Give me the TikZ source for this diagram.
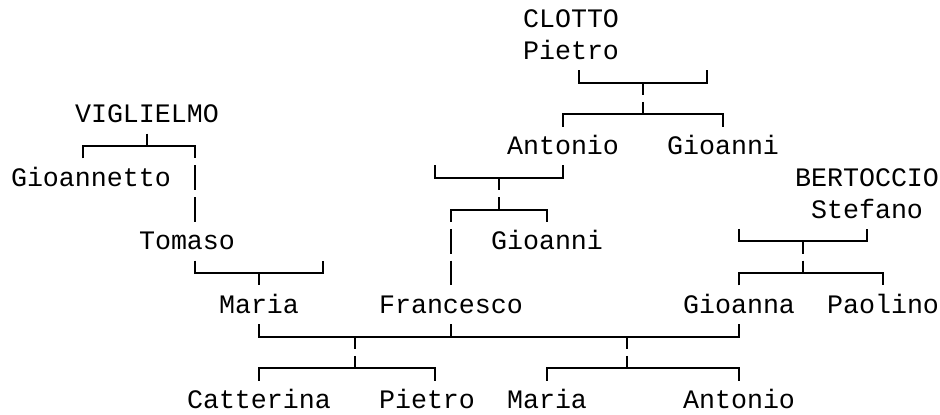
\documentclass[tikz,border=0pt]{standalone}
\usepackage{fontspec}
\setmonofont{Liberation Mono}
\usepackage{tikz}

\begin{document}
\begin{tikzpicture}[x=8pt, y=-15.875pt,
    person/.style={font=\ttfamily\fontsize{13.33}{16}\selectfont, inner sep=0pt, anchor=base},
    tree/.style={line width=1pt}]
    %% Background
    \useasboundingbox (-1.1875,-0.5984) rectangle (57.5625,12.4409);
    %% Names
    \node[person] (clotto) at (34.5,0.27) {CLOTTO};
    \node[person] (pietro) at (34.5,1.27) {Pietro};
    \node[person] (viglielmo) at (8,3.27) {VIGLIELMO};
    \node[person] (antonio) at (34,4.27) {Antonio};
    \node[person] (gioanni) at (44,4.27) {Gioanni};
    \node[person] (gioannetto) at (4.5,5.27) {Gioannetto};
    \node[person] (bertoccio) at (53,5.27) {BERTOCCIO};
    \node[person] (stefano) at (53,6.27) {Stefano};
    \node[person] (tomaso) at (10.5,7.27) {Tomaso};
    \node[person] (gioannijr) at (33,7.27) {Gioanni};
    \node[person] (maria) at (15,9.27) {Maria};
    \node[person] (francesco) at (27,9.27) {Francesco};
    \node[person] (gioanna) at (45,9.27) {Gioanna};
    \node[person] (paolino) at (54,9.27) {Paolino};
    \node[person] (catterina) at (15,12.27) {Catterina};
    \node[person] (pietrojr) at (25.5,12.27) {Pietro};
    \node[person] (mariajr) at (33,12.27) {Maria};
    \node[person] (antoniojr) at (45,12.27) {Antonio};
    %% CLOTTO Pietro
    \draw[tree] (35,1.61) -- (35,2) -- (43,2) -- (43,1.61);
    \draw[tree] (39,2) -- (39,2.39);
    \draw[tree] (39,2.61) -- (39,3);
    \draw[tree] (34,3.39) -- (34,3) -- (44,3) -- (44,3.39);
    %% VIGLIELMO
    \draw[tree] (8,3.61) -- (8,4);
    \draw[tree] (4,4.39) -- (4,4) -- (11,4) -- (11,4.39);
    \foreach \r in {5,6}
        \draw[tree] (11,\r-0.39) -- (11,\r+0.39);
    %% Tomaso
    \draw[tree] (11,7.61) -- (11,8) -- (19,8) -- (19,7.61);
    \draw[tree] (15,8) -- (15,8.39);
    %% Antonio
    \draw[tree] (26,4.61) -- (26,5) -- (34,5) -- (34,4.61);
    \draw[tree] (30,5) -- (30,5.39);
    \draw[tree] (30,5.61) -- (30,6);
    \draw[tree] (27,6.39) -- (27,6) -- (33,6) -- (33,6.39);
    \foreach \r in {7,8}
        \draw[tree] (27,\r-0.39) -- (27,\r+0.39);
    %% BERTOCCIO Stefano
    \draw[tree] (45,6.61) -- (45,7) -- (53,7) -- (53,6.61);
    \draw[tree] (49,7) -- (49,7.39);
    \draw[tree] (49,7.61) -- (49,8);
    \draw[tree] (45,8.39) -- (45,8) -- (54,8) -- (54,8.39);
    %% Children
    \draw[tree] (15,9.61) -- (15,10) -- (45,10) -- (45,9.61);
    \draw[tree] (27,9.61) -- (27,10);
    \foreach \c in {21,38}
    {
        \draw[tree] (\c,10) -- (\c,10.39);
        \draw[tree] (\c,10.61) -- (\c,11);
    }
    \draw[tree] (15,11.39) -- (15,11) -- (26,11) -- (26,11.39);
    \draw[tree] (33,11.39) -- (33,11) -- (45,11) -- (45,11.39);
\end{tikzpicture}
\end{document}
